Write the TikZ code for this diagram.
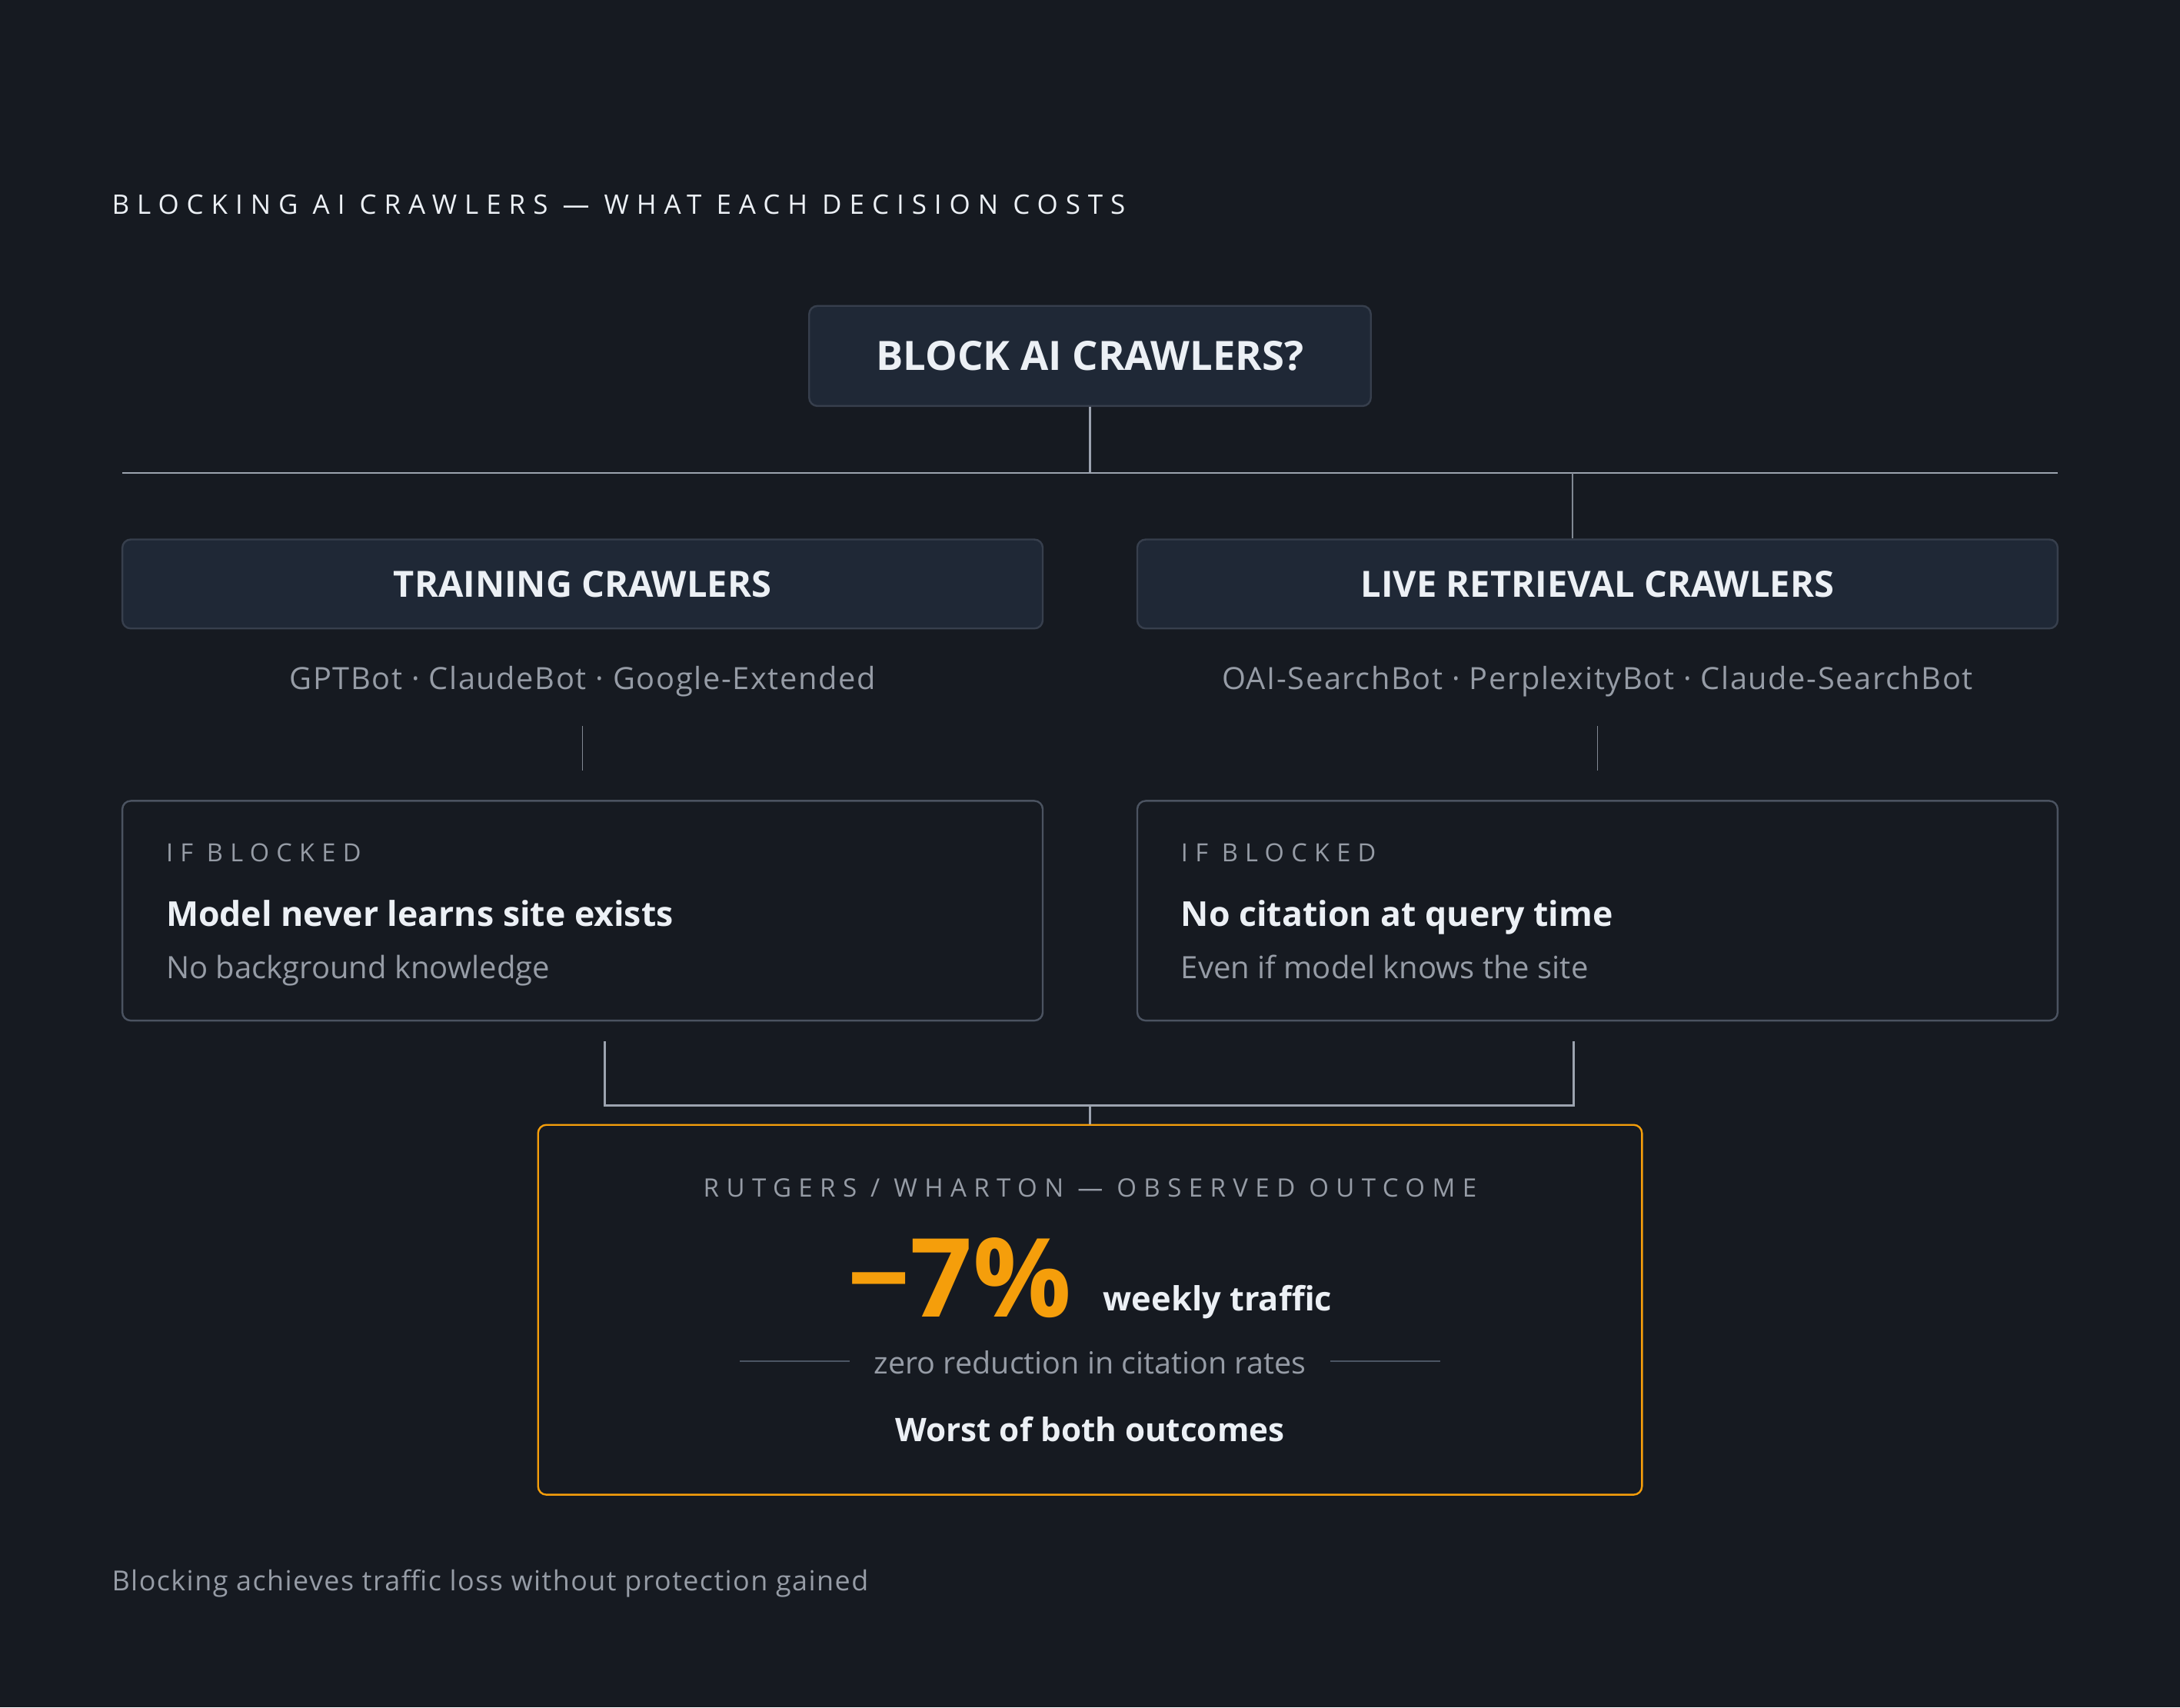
\documentclass[tikz,border=0pt]{standalone}
\usepackage{fontspec}
\setmainfont{Open Sans}
\newfontfamily\wideface[LetterSpace=28.5]{Open Sans}
\newfontfamily\softface[LetterSpace=4]{Open Sans}

\definecolor{bgdark}{RGB}{22,26,33}
\definecolor{panel}{RGB}{31,40,54}
\definecolor{rimhead}{RGB}{55,63,77}
\definecolor{rimcost}{RGB}{75,83,97}
\definecolor{wiregray}{RGB}{156,163,175}
\definecolor{rulegray}{RGB}{75,85,99}
\definecolor{inkwhite}{RGB}{236,240,245}
\definecolor{mutegray}{RGB}{150,156,166}
\definecolor{amber}{RGB}{245,158,11}

\tikzset{every picture/.style={line width=0.75pt},
  headbox/.style={draw=rimhead, fill=panel, rounded corners=4.5pt, line width=1pt, inner sep=0pt, text=inkwhite},
  costbox/.style={draw=rimcost, fill=bgdark, rounded corners=4.5pt, line width=1pt, inner sep=0pt},
  outbox/.style={draw=amber, fill=bgdark, rounded corners=4.5pt, line width=1pt, inner sep=0pt},
  wire/.style={draw=wiregray, line width=1pt},
  thinwire/.style={draw=wiregray!80!bgdark, line width=0.6pt},
  bracket/.style={draw=wiregray, line width=1.4pt},
  sideline/.style={draw=rulegray, line width=0.8pt},
  txt/.style={inner sep=0pt, anchor=base west},
  ctxt/.style={inner sep=0pt, anchor=base},
}

\begin{document}
\begin{tikzpicture}[x=0.75pt,y=0.75pt,yscale=-1,xscale=1]
%set diagram left start at 0, and has height of 1228
\fill[bgdark] (0,0) rectangle (1568,1228);
\useasboundingbox (0,0) rectangle (1568,1228);

% Text Node
\node[txt, text=inkwhite, font=\wideface\fontsize{14.5}{17}\selectfont] (title) at (80,154) {BLOCKING AI CRAWLERS — WHAT EACH DECISION COSTS};

%Shape: Rectangle
\node[headbox, minimum width=303pt, minimum height=54pt, font=\bfseries\fontsize{21.8}{25}\selectfont] (ask) at (784,256) {BLOCK AI CRAWLERS?};
%Shape: Rectangle
\node[headbox, minimum width=496.5pt, minimum height=48pt, font=\bfseries\fontsize{19.5}{22}\selectfont] (train) at (419,420) {TRAINING CRAWLERS};
%Shape: Rectangle
\node[headbox, minimum width=496.5pt, minimum height=48pt, font=\bfseries\fontsize{19.5}{22}\selectfont] (live) at (1149,420) {LIVE RETRIEVAL CRAWLERS};

%Straight Lines
\coordinate (busL) at (88,340);
\coordinate (busR) at (1480,340);
\coordinate (tapR) at (1131,340);
\draw[wire] (busL) -- (busR);
\draw[wire] (ask.south) -- (ask.south |- busL);
\draw[thinwire] (tapR) -- (tapR |- live.north);

% Text Node
\node[ctxt, text=mutegray, font=\softface\fontsize{16.5}{19}\selectfont] (trainbots) at (419,496) {GPTBot · ClaudeBot · Google-Extended};
% Text Node
\node[ctxt, text=mutegray, font=\softface\fontsize{16.5}{19}\selectfont] (livebots) at (1149,496) {OAI-SearchBot · PerplexityBot · Claude-SearchBot};

%Straight Lines
\coordinate (tickLa) at (419,522);
\coordinate (tickLb) at (419,554);
\coordinate (tickRa) at (1149,522);
\coordinate (tickRb) at (1149,554);
\draw[thinwire] (tickLa) -- (tickLb);
\draw[thinwire] (tickRa) -- (tickRb);

%Shape: Rectangle
\node[costbox, minimum width=496.5pt, minimum height=118.5pt] (traincost) at (419,655) {};
%Shape: Rectangle
\node[costbox, minimum width=496.5pt, minimum height=118.5pt] (livecost) at (1149,655) {};

% Text Node
\node[txt, text=mutegray, font=\wideface\fontsize{13.5}{16}\selectfont] (ifL) at (119,620) {IF BLOCKED};
% Text Node
\node[txt, text=inkwhite, font=\bfseries\fontsize{18.5}{22}\selectfont] (effL) at (119,666) {Model never learns site exists};
% Text Node
\node[txt, text=mutegray, font=\fontsize{16.6}{19}\selectfont] (noteL) at (119,704) {No background knowledge};
% Text Node
\node[txt, text=mutegray, font=\wideface\fontsize{13.5}{16}\selectfont] (ifR) at (849,620) {IF BLOCKED};
% Text Node
\node[txt, text=inkwhite, font=\bfseries\fontsize{18.5}{22}\selectfont] (effR) at (849,666) {No citation at query time};
% Text Node
\node[txt, text=mutegray, font=\fontsize{16.6}{19}\selectfont] (noteR) at (849,704) {Even if model knows the site};

%Shape: Rectangle
\node[outbox, minimum width=595.5pt, minimum height=199.5pt] (outcome) at (784,942) {};

%Straight Lines
\coordinate (brL) at (435,749);
\coordinate (brR) at (1132,749);
\coordinate (brJ) at (784,795);
\draw[bracket] (brL) |- (brJ) -| (brR);
\draw[wire] (brJ) -- (outcome.north);

% Text Node
\node[ctxt, text=mutegray, font=\wideface\fontsize{13.7}{16}\selectfont] (source) at (784,861) {RUTGERS / WHARTON — OBSERVED OUTCOME};
% Text Node
\node[inner sep=0pt, anchor=base east, text=amber, font=\bfseries\fontsize{59}{64}\selectfont] (drop) at (771,947) {−7\%};
% Text Node
\node[txt, text=inkwhite, font=\bfseries\fontsize{18}{22}\selectfont] (weekly) at (793,943) {weekly traffic};
% Text Node
\node[ctxt, text=mutegray, font=\fontsize{16.4}{19}\selectfont] (zero) at (784,988) {zero reduction in citation rates};
\coordinate (ruleLa) at (532,979);
\coordinate (ruleLb) at (611,979);
\coordinate (ruleRa) at (957,979);
\coordinate (ruleRb) at (1036,979);
\draw[sideline] (ruleLa) -- (ruleLb);
\draw[sideline] (ruleRa) -- (ruleRb);
% Text Node
\node[ctxt, text=inkwhite, font=\bfseries\fontsize{17.5}{21}\selectfont] (worst) at (784,1037) {Worst of both outcomes};

% Text Node
\node[txt, text=mutegray, font=\softface\fontsize{14.9}{17}\selectfont] (footer) at (80,1144) {Blocking achieves traffic loss without protection gained};

\end{tikzpicture}
\end{document}
